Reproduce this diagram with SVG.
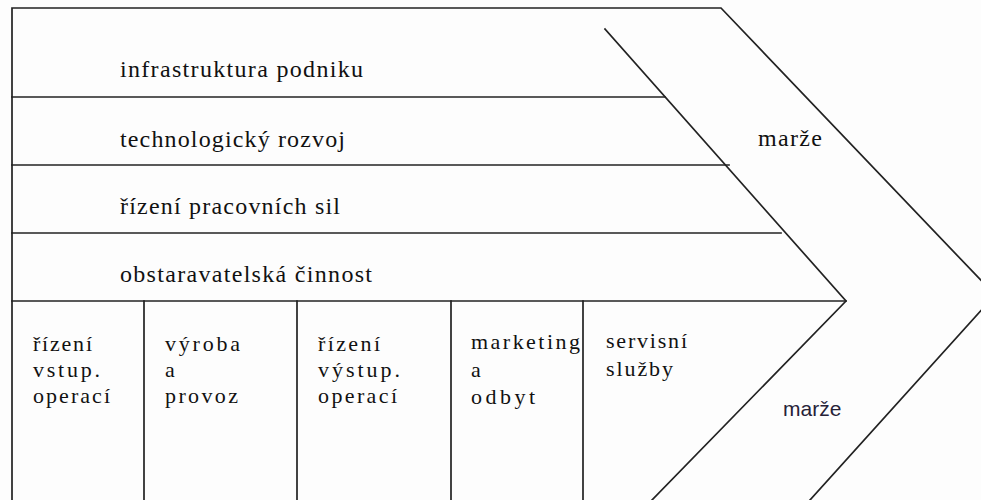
<svg xmlns="http://www.w3.org/2000/svg" width="981" height="500" viewBox="0 0 981 500">
<style>
.ln{stroke:#222;stroke-width:1.7;fill:none;stroke-linecap:square}
.t{font-family:"Times New Roman","Liberation Serif",Tinos,"Nimbus Roman","DejaVu Serif",FreeSerif,Times,serif;font-size:24px;fill:#111}
.b{font-family:"Times New Roman","Liberation Serif",Tinos,"Nimbus Roman","DejaVu Serif",FreeSerif,Times,serif;font-size:22px;fill:#111}
.s{font-family:"Liberation Sans",Arial,sans-serif;font-size:21px;fill:#262238}
</style>
<rect width="981" height="500" fill="#fdfdfd"/>
<g id="frame">
<path class="ln" d="M12,500 L12,8 L721,8 L995,295 L810,500"/>
<path class="ln" d="M605,29 L846,301 L652,500"/>
</g>
<g id="support-lines">
<line class="ln" x1="12" y1="97" x2="665" y2="97"/>
<line class="ln" x1="12" y1="165" x2="729" y2="165"/>
<line class="ln" x1="12" y1="233" x2="781" y2="233"/>
<line class="ln" x1="12" y1="301" x2="846" y2="301"/>
</g>
<g id="primary-lines">
<line class="ln" x1="144" y1="301" x2="144" y2="500"/>
<line class="ln" x1="297" y1="301" x2="297" y2="500"/>
<line class="ln" x1="451" y1="301" x2="451" y2="500"/>
<line class="ln" x1="583" y1="301" x2="583" y2="500"/>
</g>
<g id="infrastruktura"><text class="t" x="120" y="77" textLength="243" lengthAdjust="spacing">infrastruktura podniku</text></g>
<g id="technologie"><text class="t" x="120" y="147" textLength="225" lengthAdjust="spacing">technologický rozvoj</text></g>
<g id="pracovni-sily"><text class="t" x="120" y="214" textLength="220" lengthAdjust="spacing">řízení pracovních sil</text></g>
<g id="obstaravatelska"><text class="t" x="120" y="282" textLength="252" lengthAdjust="spacing">obstaravatelská činnost</text></g>
<g id="vstupni-operace">
<text class="b" x="33" y="351" textLength="59" lengthAdjust="spacing">řízení</text>
<text class="b" x="33" y="377" textLength="67" lengthAdjust="spacing">vstup.</text>
<text class="b" x="33" y="403" textLength="77" lengthAdjust="spacing">operací</text>
</g>
<g id="vyroba">
<text class="b" x="165" y="351" textLength="75" lengthAdjust="spacing">výroba</text>
<text class="b" x="165" y="377">a</text>
<text class="b" x="165" y="403" textLength="73" lengthAdjust="spacing">provoz</text>
</g>
<g id="vystupni-operace">
<text class="b" x="318" y="351" textLength="62" lengthAdjust="spacing">řízení</text>
<text class="b" x="318" y="377" textLength="82" lengthAdjust="spacing">výstup.</text>
<text class="b" x="318" y="403" textLength="79" lengthAdjust="spacing">operací</text>
</g>
<g id="marketing">
<text class="b" x="471" y="349" textLength="109" lengthAdjust="spacing">marketing</text>
<text class="b" x="471" y="377">a</text>
<text class="b" x="471" y="404" textLength="64" lengthAdjust="spacing">odbyt</text>
</g>
<g id="servis">
<text class="b" x="606" y="348" textLength="81" lengthAdjust="spacing">servisní</text>
<text class="b" x="606" y="376" textLength="67" lengthAdjust="spacing">služby</text>
</g>
<g id="marze-horni"><text class="t" x="758" y="146" textLength="64" lengthAdjust="spacing">marže</text></g>
<g id="marze-dolni"><text class="s" x="783" y="416">marže</text></g>
</svg>
